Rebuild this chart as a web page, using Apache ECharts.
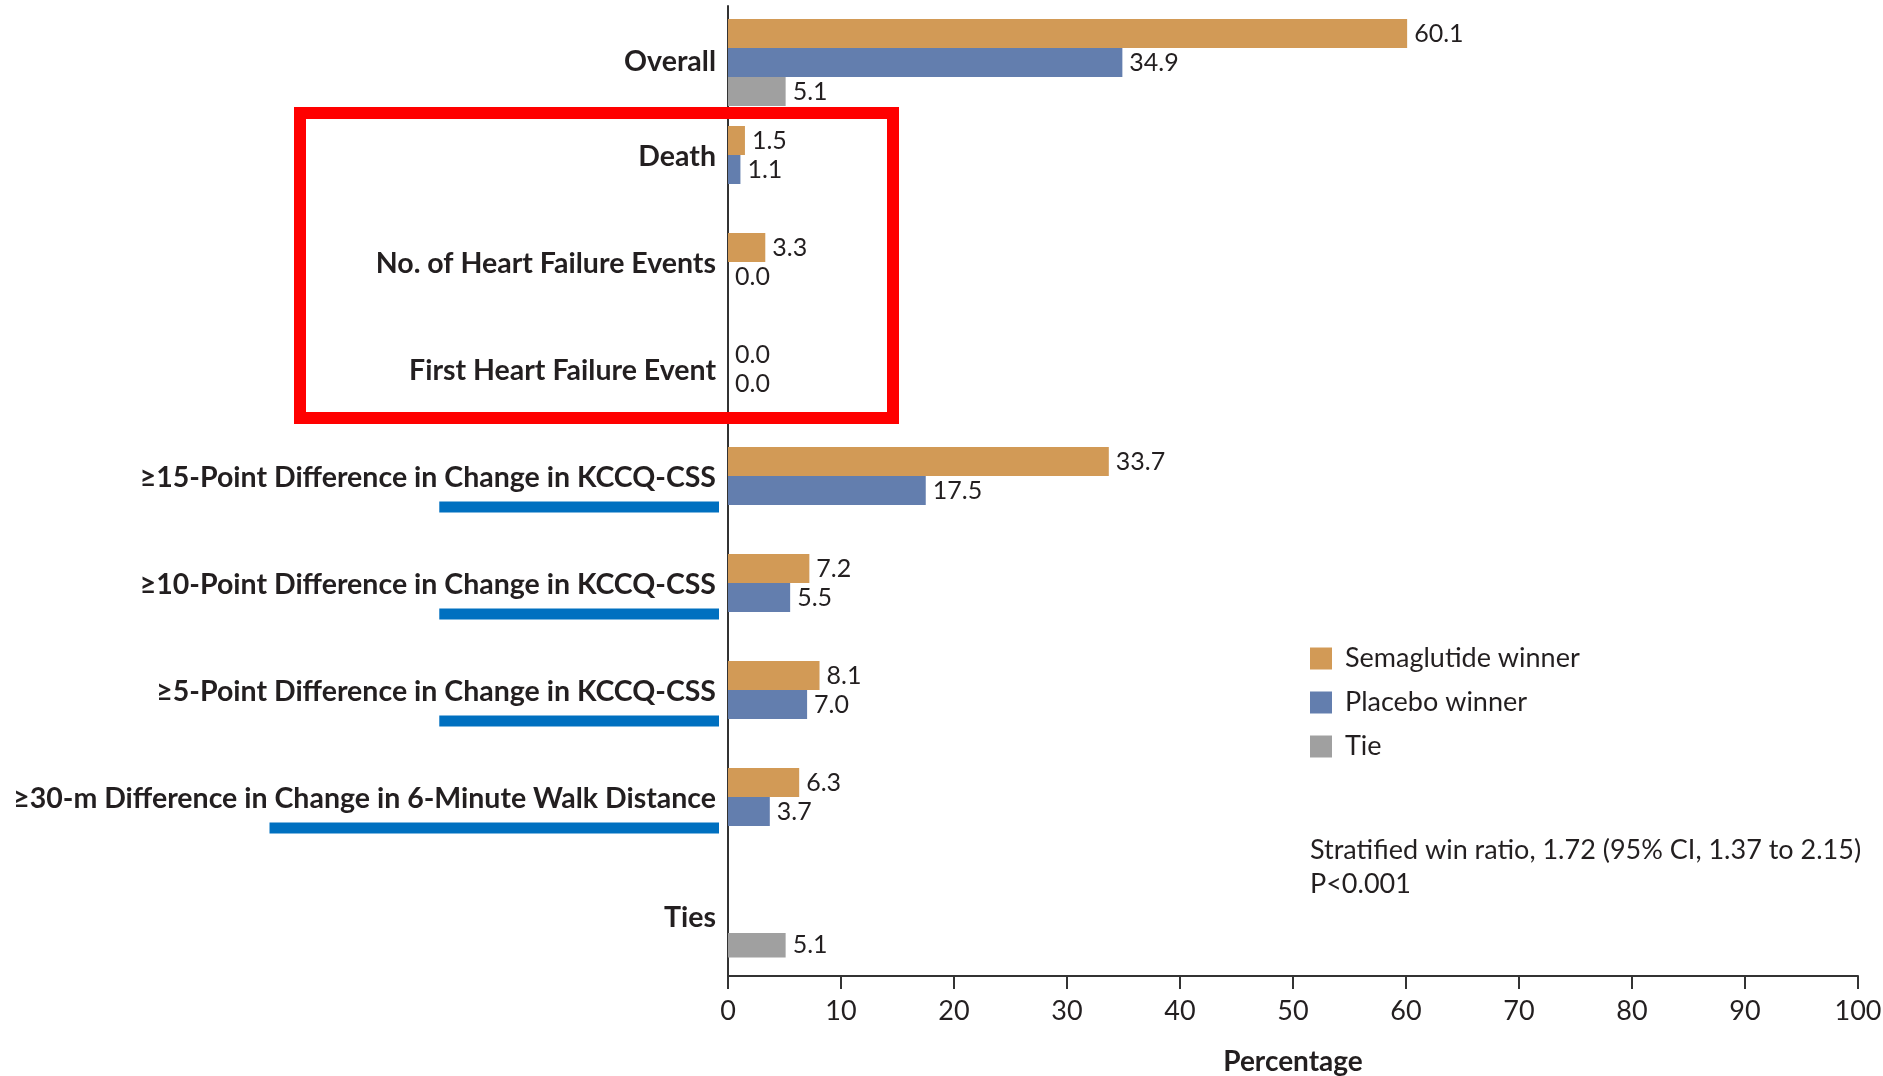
<!DOCTYPE html>
<html>
<head>
<meta charset="utf-8">
<script src="https://cdn.jsdelivr.net/npm/echarts@6/dist/echarts.min.js"></script>
<style>
  html, body { margin: 0; padding: 0; background: #ffffff; }
  #chart { width: 1883px; height: 1076px; }
</style>
</head>
<body>
<div id="chart"></div>
<script>
// ---- data ----
const categories = [
  'Overall',
  'Death',
  'No. of Heart Failure Events',
  'First Heart Failure Event',
  '≥15-Point Difference in Change in KCCQ-CSS',
  '≥10-Point Difference in Change in KCCQ-CSS',
  '≥5-Point Difference in Change in KCCQ-CSS',
  '≥30-m Difference in Change in 6-Minute Walk Distance',
  'Ties'
];
const semaglutideWinner = [60.1, 1.5, 3.3, 0.0, 33.7, 7.2, 8.1, 6.3, null];
const placeboWinner     = [34.9, 1.1, 0.0, 0.0, 17.5, 5.5, 7.0, 3.7, null];
const tie               = [5.1, null, null, null, null, null, null, null, 5.1];
const seriesNames = ['Semaglutide winner', 'Placebo winner', 'Tie'];
const xTickMin = 0, xTickMax = 100, xTickStep = 10;
const axisTitle = 'Percentage';
// phrase of each label that carries a highlight bar underneath
const underlinedPhrases = {
  4: 'Change in KCCQ-CSS',
  5: 'Change in KCCQ-CSS',
  6: 'Change in KCCQ-CSS',
  7: 'Change in 6-Minute Walk Distance'
};
// rows enclosed by the red frame (first, last)
const framedRows = [1, 3];
const footnote = ['Stratified win ratio, 1.72 (95% CI, 1.37 to 2.15)', 'P<0.001'];

// ---- styling ----
const FONT = 'Lato, "Noto Sans", sans-serif';
const TEXT = '#231f20';
const COLORS = ['#D29A56', '#637EAE', '#A0A0A0'];
const AXIS_LEFT = 728, AXIS_RIGHT = 1858;
const BAND = 107, BAR = 29;
const LABEL_FONT_SIZE = 28.5, LABEL_MARGIN = 12;

const toData = arr => arr.map(v => (v === null ? '-' : v));

const valueLabel = {
  show: true,
  position: 'right',
  distance: 7,
  fontFamily: FONT,
  fontSize: 25,
  color: TEXT,
  formatter: p => Number(p.value).toFixed(1)
};

// rows with three bars have their label sitting a little lower
const shiftedRows = new Set([0, 8]);
const labelStyle = extraTop => ({
  fontFamily: FONT, fontSize: LABEL_FONT_SIZE, fontWeight: 'bold',
  color: TEXT, padding: [extraTop, 0, 0, 0]
});

const chart = echarts.init(document.getElementById('chart'), null, { renderer: 'canvas' });

const option = {
  backgroundColor: '#ffffff',
  animation: false,
  grid: [
    { left: AXIS_LEFT, right: 1883 - AXIS_RIGHT, top: -5.5, height: BAND * categories.length,
      outerBoundsMode: 'none', containLabel: false },
    { left: AXIS_LEFT, right: 1883 - AXIS_RIGHT, top: 6, height: 970,
      outerBoundsMode: 'none', containLabel: false }
  ],
  xAxis: [
    {
      gridIndex: 0,
      type: 'value',
      min: xTickMin, max: xTickMax, interval: xTickStep,
      offset: 976 - (-5.5 + BAND * categories.length),
      name: axisTitle,
      nameLocation: 'middle',
      nameGap: 72,
      nameTextStyle: { fontFamily: FONT, fontSize: 28, fontWeight: 'bold', color: TEXT },
      axisLine: { show: true, lineStyle: { color: '#333', width: 2 } },
      axisTick: { show: true, length: 13, lineStyle: { color: '#333', width: 2 } },
      axisLabel: { fontFamily: FONT, fontSize: 27, color: TEXT, margin: 22 },
      splitLine: { show: false }
    },
    { gridIndex: 1, type: 'value', min: 0, max: 1, show: false }
  ],
  yAxis: [
    {
      gridIndex: 0,
      type: 'category',
      inverse: true,
      data: categories,
      axisLine: { show: false },
      axisTick: { show: false },
      axisLabel: {
        fontFamily: FONT, fontSize: LABEL_FONT_SIZE, fontWeight: 'bold',
        color: TEXT, margin: LABEL_MARGIN, interval: 0,
        formatter: (value, index) => (shiftedRows.has(index) ? '{low|' : '{row|') + value + '}',
        rich: {
          row: labelStyle(4),
          low: labelStyle(28)
        }
      }
    },
    {
      gridIndex: 1,
      type: 'value',
      min: 0, max: 1,
      axisLine: { show: true, onZero: false, lineStyle: { color: '#333', width: 2 } },
      axisTick: { show: false },
      axisLabel: { show: false },
      splitLine: { show: false }
    }
  ],
  legend: {
    data: seriesNames,
    orient: 'vertical',
    left: 1305,
    top: 640,
    padding: 5,
    icon: 'rect',
    itemWidth: 22,
    itemHeight: 22,
    itemGap: 17,
    selectedMode: false,
    textStyle: { fontFamily: FONT, fontSize: 27, color: TEXT, padding: [0, 0, 0, 8] }
  },
  series: [
    // empty leading slot so the tie bar sits below the pair
    { name: 'slot', type: 'bar', xAxisIndex: 0, yAxisIndex: 0, barWidth: BAR, barGap: '0%',
      data: categories.map(() => '-'), silent: true },
    { name: seriesNames[0], type: 'bar', xAxisIndex: 0, yAxisIndex: 0, barWidth: BAR, barGap: '0%',
      data: toData(semaglutideWinner), itemStyle: { color: COLORS[0] }, label: valueLabel },
    { name: seriesNames[1], type: 'bar', xAxisIndex: 0, yAxisIndex: 0, barWidth: BAR, barGap: '0%',
      data: toData(placeboWinner), itemStyle: { color: COLORS[1] }, label: valueLabel },
    { name: seriesNames[2], type: 'bar', xAxisIndex: 0, yAxisIndex: 0, barWidth: BAR, barGap: '0%',
      data: toData(tie), itemStyle: { color: COLORS[2] }, label: valueLabel }
  ],
  graphic: [
    {
      id: 'footnote',
      type: 'text',
      left: 1310,
      top: 833,
      style: {
        text: footnote.join('\n'),
        font: '27px ' + FONT,
        lineHeight: 34,
        fill: TEXT
      }
    }
  ]
};

chart.setOption(option);

// highlight bars under label phrases and the red frame around the event rows
function addAnnotations() {
  const ctx = document.createElement('canvas').getContext('2d');
  ctx.font = 'bold ' + LABEL_FONT_SIZE + 'px ' + FONT;
  const labelRight = AXIS_LEFT - LABEL_MARGIN;
  const els = [];
  Object.keys(underlinedPhrases).forEach(k => {
    const i = Number(k);
    const cy = chart.convertToPixel({ yAxisIndex: 0 }, categories[i]);
    const w = ctx.measureText(underlinedPhrases[k]).width;
    const x0 = labelRight - w - 5;
    const x1 = AXIS_LEFT - 9;
    els.push({
      id: 'underline' + i,
      type: 'rect',
      shape: { x: x0, y: cy + 25.5, width: x1 - x0, height: 11 },
      style: { fill: '#0070C0' },
      silent: true
    });
  });
  const yTop = chart.convertToPixel({ yAxisIndex: 0 }, categories[framedRows[0]]) - 42;
  const yBot = chart.convertToPixel({ yAxisIndex: 0 }, categories[framedRows[1]]) + 49;
  els.push({
    id: 'frame',
    type: 'rect',
    shape: { x: 300, y: yTop, width: 593, height: yBot - yTop },
    style: { fill: 'none', stroke: '#FF0000', lineWidth: 12 },
    silent: true,
    z: 10
  });
  chart.setOption({ graphic: els });
}
addAnnotations();
</script>
</body>
</html>
